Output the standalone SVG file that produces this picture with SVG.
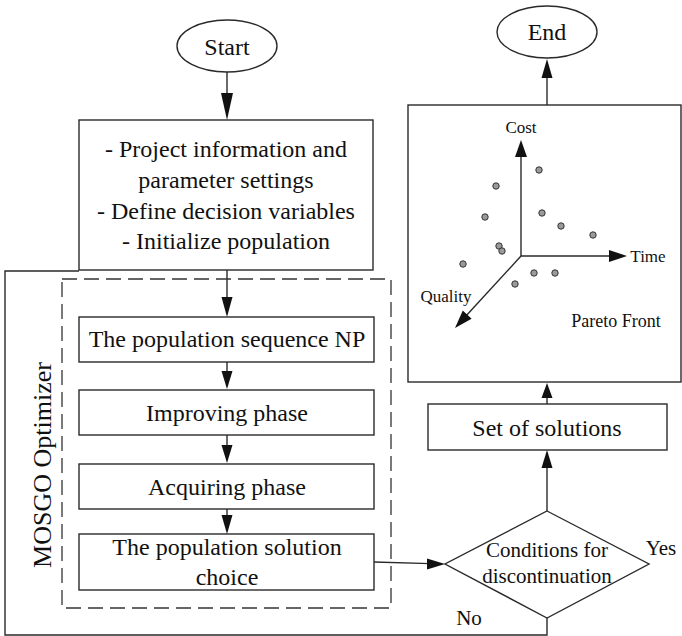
<svg xmlns="http://www.w3.org/2000/svg" width="682" height="636" viewBox="0 0 682 636">
<style>
  .s { fill: none; stroke: #2a2a2a; stroke-width: 1.4; }
  .box { fill: #ffffff; stroke: #2a2a2a; stroke-width: 1.4; }
  .ah { fill: #111111; stroke: none; }
  .t { font-family: "Liberation Serif", "Times New Roman", serif; fill: #111111; text-anchor: middle; }
  .t24 { font-size: 24px; }
  .t21 { font-size: 21px; }
  .t17 { font-size: 17px; }
  .dot { fill: #9a9a9a; stroke: #333333; stroke-width: 1; }
</style>
<rect width="682" height="636" fill="#ffffff"/>

<g id="connectors">
  <!-- No loop -->
  <polyline class="s" points="547,617 547,635 5,635 5,271 79,271"/>
  <!-- Start -> info -->
  <line class="s" x1="227" y1="72" x2="227" y2="100"/>
  <polygon class="ah" points="227,120 221,93 233,93"/>
  <!-- info -> seq -->
  <line class="s" x1="227" y1="270" x2="227" y2="300"/>
  <polygon class="ah" points="227,317 221.5,297 232.5,297"/>
  <!-- seq -> improving -->
  <line class="s" x1="227" y1="362" x2="227" y2="375"/>
  <polygon class="ah" points="227,389 221.5,371 232.5,371"/>
  <!-- improving -> acquiring -->
  <line class="s" x1="227" y1="435" x2="227" y2="448"/>
  <polygon class="ah" points="227,463 221.5,445 232.5,445"/>
  <!-- acquiring -> choice -->
  <line class="s" x1="227" y1="509" x2="227" y2="518"/>
  <polygon class="ah" points="227,534 221.5,515 232.5,515"/>
  <!-- choice -> diamond -->
  <line class="s" x1="374" y1="562" x2="430" y2="563.6"/>
  <polygon class="ah" points="445,564 427,558.5 427,569.5"/>
  <!-- diamond -> set -->
  <line class="s" x1="547" y1="511" x2="547" y2="465"/>
  <polygon class="ah" points="547,450 541.5,468 552.5,468"/>
  <!-- set -> pareto -->
  <line class="s" x1="547" y1="404" x2="547" y2="395"/>
  <polygon class="ah" points="547,383 541.5,398 552.5,398"/>
  <!-- pareto -> End -->
  <line class="s" x1="547" y1="105" x2="547" y2="75"/>
  <polygon class="ah" points="547,59 541.5,78 552.5,78"/>
</g>

<g id="mosgo">
  <rect x="62" y="279" width="329" height="329" fill="none" stroke="#333333" stroke-width="1.3" stroke-dasharray="15,7"/>
  <text class="t" font-size="26" transform="translate(51,465) rotate(-90)">MOSGO Optimizer</text>
</g>

<g id="start">
  <ellipse class="box" cx="227" cy="46" rx="50" ry="26"/>
  <text class="t t24" x="227" y="55">Start</text>
</g>

<g id="info">
  <rect class="box" x="79" y="120" width="294" height="150"/>
  <text class="t t24" x="226" y="157">- Project information and</text>
  <text class="t t24" x="226" y="188">parameter settings</text>
  <text class="t t24" x="226" y="219">- Define decision variables</text>
  <text class="t t24" x="226" y="249">- Initialize population</text>
</g>

<g id="seq">
  <rect class="box" x="79" y="317" width="295" height="45"/>
  <text class="t t24" x="227" y="347">The population sequence NP</text>
</g>

<g id="improving">
  <rect class="box" x="79" y="390" width="295" height="45"/>
  <text class="t t24" x="227" y="421">Improving phase</text>
</g>

<g id="acquiring">
  <rect class="box" x="79" y="464" width="295" height="45"/>
  <text class="t t24" x="227" y="495">Acquiring phase</text>
</g>

<g id="choice">
  <rect class="box" x="79" y="534" width="295" height="56"/>
  <text class="t t24" x="227" y="555">The population solution</text>
  <text class="t t24" x="227" y="585">choice</text>
</g>

<g id="diamond">
  <polygon class="box" points="547,511 649,564 547,618 445,564"/>
  <text class="t t21" x="547" y="557">Conditions for</text>
  <text class="t t21" x="547" y="583">discontinuation</text>
  <text class="t t21" x="661" y="555">Yes</text>
  <text class="t t21" x="469" y="625">No</text>
</g>

<g id="set">
  <rect class="box" x="428" y="404" width="239" height="46"/>
  <text class="t t24" x="547" y="436">Set of solutions</text>
</g>

<g id="pareto">
  <rect class="box" x="408" y="105" width="273" height="277"/>
  <line class="s" x1="521" y1="256" x2="521" y2="150"/>
  <polygon class="ah" points="521,140 515,157 527,157"/>
  <line class="s" x1="521" y1="256" x2="615" y2="256"/>
  <polygon class="ah" points="627,256 609,250 609,262"/>
  <line class="s" x1="521" y1="256" x2="465" y2="317"/>
  <polygon class="ah" points="455,328 462.8,310.6 471.6,318.8"/>
  <text class="t t17" x="521" y="133">Cost</text>
  <text class="t t17" x="648" y="262">Time</text>
  <text class="t t17" x="446" y="302">Quality</text>
  <text class="t" font-size="18" x="616" y="327">Pareto Front</text>
  <circle class="dot" cx="539" cy="170" r="3.2"/>
  <circle class="dot" cx="496" cy="186" r="3.2"/>
  <circle class="dot" cx="542" cy="213" r="3.2"/>
  <circle class="dot" cx="485" cy="217" r="3.2"/>
  <circle class="dot" cx="561" cy="226" r="3.2"/>
  <circle class="dot" cx="593" cy="235" r="3.2"/>
  <circle class="dot" cx="499" cy="246" r="3.2"/>
  <circle class="dot" cx="502" cy="251" r="3.2"/>
  <circle class="dot" cx="463" cy="264" r="3.2"/>
  <circle class="dot" cx="534" cy="273" r="3.2"/>
  <circle class="dot" cx="555" cy="273" r="3.2"/>
  <circle class="dot" cx="515" cy="284" r="3.2"/>
</g>

<g id="end">
  <ellipse class="box" cx="547" cy="32" rx="50" ry="26"/>
  <text class="t t24" x="547" y="40">End</text>
</g>
</svg>
